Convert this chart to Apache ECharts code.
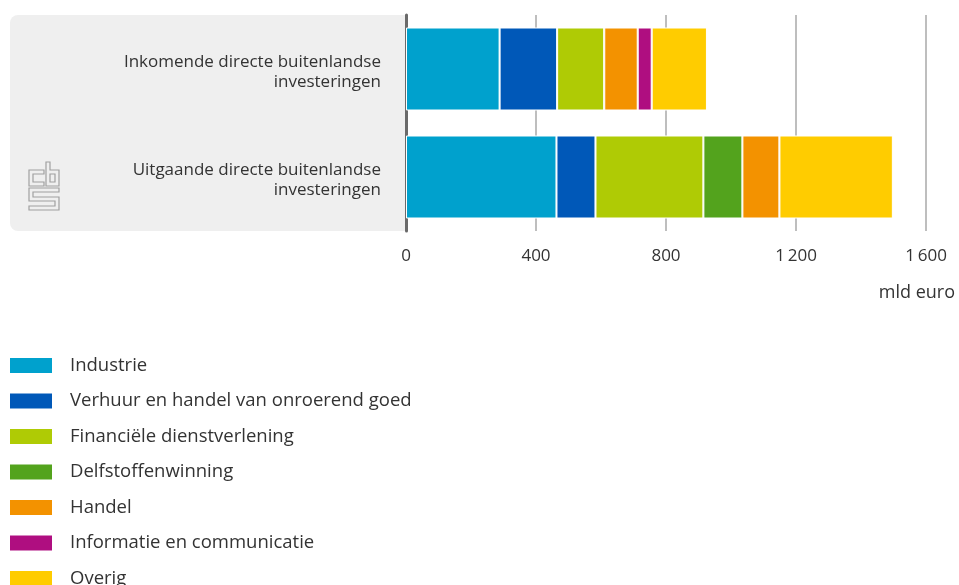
<!DOCTYPE html>
<html><head><meta charset="utf-8">
<script src="https://cdn.jsdelivr.net/npm/echarts@6/dist/echarts.min.js"></script>
<style>html,body{margin:0;padding:0;background:#fff}#c{width:959px;height:585px}</style>
</head><body><div id="c"></div>
<script>
const categories = ['Inkomende directe buitenlandse\ninvesteringen', 'Uitgaande directe buitenlandse\ninvesteringen'];
const seriesNames = ['Industrie', 'Verhuur en handel van onroerend goed', 'Financiële dienstverlening', 'Delfstoffenwinning', 'Handel', 'Informatie en communicatie', 'Overig'];
const industrie = [288, 463];
const verhuur = [177, 120];
const financieel = [145, 332];
const delfstoffen = [0, 120];
const handel = [103, 114];
const informatie = [43, 0];
const overig = [170, 349];
const xTicks = [0, 400, 800, 1200, 1600];
const colors = ['#00a1cd', '#0058b8', '#afcb05', '#53a31d', '#f39200', '#af0e80', '#ffcc00'];
const values = [industrie, verhuur, financieel, delfstoffen, handel, informatie, overig];
const FONT = '"Open Sans", sans-serif';

const chart = echarts.init(document.getElementById('c'), null, {renderer: 'canvas'});
const logoStroke = {stroke: '#a0a0a0', lineWidth: 1.2, fill: null};
chart.setOption({
  animation: false,
  textStyle: {fontFamily: FONT},
  grid: {left: 406, right: 33, top: 15, height: 216, containLabel: false},
  xAxis: {
    type: 'value', min: xTicks[0], max: xTicks[xTicks.length - 1], interval: 400,
    axisLine: {show: false}, axisTick: {show: false},
    splitLine: {show: true, lineStyle: {color: '#a8a8a8', width: 1.5}},
    axisLabel: {color: '#333', fontSize: 17, fontFamily: FONT, margin: 17,
      formatter: v => String(v).replace(/\B(?=(\d{3})+(?!\d))/g, '\u2009')}
  },
  yAxis: {
    type: 'category', data: categories, inverse: true,
    axisLine: {show: true, lineStyle: {color: '#6a6a6a', width: 3}},
    axisTick: {show: false},
    axisLabel: {color: '#333', fontSize: 17, lineHeight: 23, fontFamily: FONT, margin: 25, align: 'right',
      formatter: v => v.split('\n').map((s, i) => (i === 0 ? '{a|' : '{b|') + s + '}').join('\n'),
      rich: {
        a: {fontSize: 17, lineHeight: 26, verticalAlign: 'bottom', color: '#333', fontFamily: FONT},
        b: {fontSize: 17, lineHeight: 23, color: '#333', fontFamily: FONT}
      }}
  },
  legend: {
    orient: 'vertical', left: 8, top: 356, height: 240, padding: 0, itemWidth: 44, itemHeight: 17, itemGap: 16.5,
    icon: 'rect', selectedMode: false,
    textStyle: {color: '#333', fontSize: 18.5, lineHeight: 18, fontFamily: FONT, padding: [0, 0, 0, 12]},
    data: seriesNames
  },
  graphic: [
    {type: 'rect', z: -10, silent: true, shape: {x: 10, y: 15, width: 395, height: 216, r: [8, 0, 0, 8]}, style: {fill: '#efefef'}},
    {type: 'polygon', z: 10, silent: true, shape: {points: [[44,170],[29,170],[29,186],[44,186],[44,182],[33,182],[33,174],[44,174]]}, style: logoStroke},
    {type: 'polygon', z: 10, silent: true, shape: {points: [[46,162],[50,162],[50,170],[59,170],[59,186],[46,186]]}, style: logoStroke},
    {type: 'rect', z: 10, silent: true, shape: {x: 50, y: 174, width: 5, height: 8}, style: logoStroke},
    {type: 'polygon', z: 10, silent: true, shape: {points: [[29,188],[59,188],[59,192],[33,192],[33,197],[59,197],[59,210],[29,210],[29,206],[55,206],[55,201],[29,201]]}, style: logoStroke},
    {type: 'text', z: 10, silent: true, style: {x: 955, y: 293, text: 'mld euro', textAlign: 'right', textVerticalAlign: 'middle', fill: '#333', fontSize: 18, fontFamily: FONT}}
  ],
  series: seriesNames.map((name, i) => ({
    name, type: 'bar', stack: 'total', barWidth: 83,
    itemStyle: {color: colors[i], borderColor: '#fff', borderWidth: 1},
    data: values[i]
  }))
});
</script></body></html>
